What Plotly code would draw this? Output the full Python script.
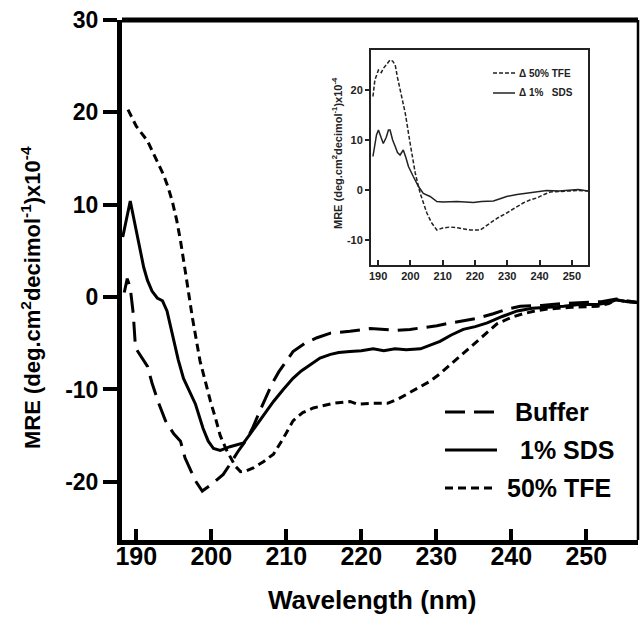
import plotly.graph_objects as go

# ---------------- data ----------------
buffer_wl = [188.4, 188.8, 189.2, 189.6, 189.9, 190.5, 191.5, 192.1, 193.0, 193.9, 195.0, 195.9,
             196.5, 197.9, 198.8, 200.0, 201.6, 202.5, 203.5, 204.8, 205.5, 206.5, 207.5, 208.1,
             209.0, 210.1, 210.9, 212.5, 214.1, 215.9, 218.5, 221.2, 224.8, 226.5, 230.1, 231.9,
             235.5, 237.6, 239.5, 241.2, 244.0, 247.0, 250.0, 252.0, 254.0, 255.5, 257.0]
buffer_mre = [0.5, 2.0, 1.0, -1.8, -5.5, -6.3, -7.5, -9.3, -11.5, -13.4, -14.8, -15.6,
              -17.4, -19.9, -21.0, -20.3, -19.2, -18.1, -16.8, -15.3, -14.2, -12.3, -10.5, -9.4,
              -8.1, -6.9, -5.9, -5.0, -4.4, -3.9, -3.7, -3.4, -3.6, -3.5, -3.1, -2.8,
              -2.3, -1.8, -1.3, -1.0, -0.9, -0.7, -0.6, -0.5, -0.2, -0.4, -0.6]

sds_wl = [188.2, 188.6, 189.2, 189.8, 190.5, 191.0, 191.5, 192.1, 192.8, 193.5, 194.1, 194.9,
          195.6, 196.3, 197.0, 197.9, 198.9, 199.6, 200.3, 201.2, 202.5, 203.5, 204.3, 205.2,
          206.1, 207.2, 208.3, 209.6, 210.9, 212.0, 213.2, 214.5, 215.9, 217.0, 218.5, 220.0,
          221.6, 223.0, 224.5, 226.0, 227.9, 229.2, 230.5, 232.0, 233.6, 235.2, 236.8, 238.8,
          240.8, 242.8, 244.8, 247.0, 249.0, 251.5, 253.0, 254.0, 255.5, 257.0]
sds_mre = [6.5, 8.0, 10.4, 8.0, 5.0, 3.2, 1.8, 0.65, -0.1, -0.4, -1.5, -4.4,
           -6.8, -8.8, -10.0, -11.6, -14.2, -15.6, -16.4, -16.6, -16.2, -16.0, -15.8, -14.8,
           -13.8, -12.5, -11.3, -10.0, -8.8, -8.0, -7.3, -6.6, -6.2, -6.0, -5.9, -5.8,
           -5.6, -5.8, -5.6, -5.7, -5.6, -5.2, -4.8, -4.1, -3.5, -3.2, -2.8, -2.1,
           -1.5, -1.2, -1.1, -1.0, -0.8, -0.8, -0.6, -0.3, -0.5, -0.6]

tfe_wl = [188.9, 190.0, 191.5, 192.5, 193.6, 194.2, 194.8, 195.4, 195.9, 196.5, 196.9, 197.5,
          198.5, 199.2, 199.9, 200.6, 201.2, 202.0, 202.5, 203.2, 203.9, 204.7, 205.6, 207.0,
          208.3, 209.6, 210.9, 212.2, 213.6, 215.0, 216.3, 218.5, 219.5, 221.5, 223.5, 225.0,
          226.1, 227.6, 229.2, 230.5, 231.9, 233.4, 234.9, 236.5, 238.1, 240.0, 241.6, 243.2,
          244.8, 248.0, 251.5, 253.0, 254.0, 255.5, 257.0]
tfe_mre = [20.3, 18.5, 16.9, 15.2, 13.3, 12.0, 10.4, 8.3, 6.1, 3.0, 0.65, -2.3,
           -6.9, -9.2, -11.3, -13.2, -15.0, -16.5, -17.3, -18.3, -18.9, -18.8, -18.5, -17.8,
           -17.0, -15.3, -13.4, -12.5, -12.0, -11.7, -11.5, -11.3, -11.6, -11.5, -11.5, -11.0,
           -10.5, -9.9, -9.1, -8.3, -7.3, -6.2, -5.1, -4.0, -2.9, -2.2, -1.8, -1.5,
           -1.3, -1.1, -1.0, -0.7, -0.3, -0.5, -0.6]

# inset: difference spectra
d_tfe_wl = [188.4, 189.0, 190.1, 191.0, 191.6, 192.5, 193.7, 194.5, 195.3, 196.0, 196.8, 198.4,
            199.9, 201.5, 203.0, 205.1, 206.5, 208.2, 210.0, 212.3, 215.0, 218.5, 221.6, 224.7,
            227.0, 229.8, 232.5, 234.9, 237.0, 239.1, 241.0, 243.3, 246.0, 249.5, 252.0, 255.0]
d_tfe_mre = [18.7, 22.0, 24.0, 23.5, 24.3, 25.0, 26.0, 25.8, 25.0, 22.5, 20.0, 15.4,
             9.4, 3.4, -0.6, -4.6, -6.5, -8.0, -7.6, -7.4, -7.6, -8.0, -8.0, -6.6,
             -5.6, -4.6, -3.5, -2.6, -2.0, -1.6, -1.0, -0.4, -0.3, -0.2, -0.1, -0.2]

d_sds_wl = [188.4, 188.9, 189.5, 190.1, 190.8, 191.6, 192.5, 193.2, 193.7, 194.5, 195.3, 196.0,
            196.8, 197.8, 198.6, 199.4, 200.9, 202.5, 204.0, 206.1, 208.2, 210.0, 214.4, 219.5,
            222.0, 225.7, 228.0, 229.8, 233.0, 237.1, 242.2, 246.0, 249.5, 252.0, 255.0]
d_sds_mre = [6.7, 8.7, 11.0, 12.0, 10.5, 9.3, 10.5, 12.0, 12.0, 10.0, 8.7, 7.5,
             7.0, 8.0, 6.5, 4.7, 2.7, 0.7, -0.7, -1.3, -2.3, -2.4, -2.3, -2.5,
             -2.3, -2.2, -1.7, -1.3, -0.9, -0.5, -0.1, -0.2, 0.0, 0.1, -0.2]

x_ticks = [190, 200, 210, 220, 230, 240, 250]
y_ticks_main = [-20, -10, 0, 10, 20, 30]
y_ticks_main_text = ["-20", "-10", "0", "10", "20", "30"]
y_ticks_inset = [-10, 0, 10, 20]
y_ticks_inset_text = ["-10", "0", "10", "20"]

series_main = [("Buffer", buffer_wl, buffer_mre, "20px,9px"),
               ("1% SDS", sds_wl, sds_mre, "solid"),
               ("50% TFE", tfe_wl, tfe_mre, "8px,5px")]
series_inset = [("Δ 50% TFE", d_tfe_wl, d_tfe_mre, "4px,2px"),
                ("Δ 1%&nbsp;&nbsp; SDS", d_sds_wl, d_sds_mre, "solid")]

# ---------------- figure ----------------
W, H = 641, 619
def px(x):
    return x / W
def py(y):
    return 1 - y / H

FONT = "Liberation Sans, Arial, Helvetica, sans-serif"

fig = go.Figure()
for name, xs, ys, dash in series_main:
    fig.add_trace(go.Scatter(x=xs, y=ys, mode="lines", name=name, showlegend=False,
                             line=dict(color="black", width=3, dash=dash),
                             xaxis="x", yaxis="y"))
for name, xs, ys, dash in series_inset:
    fig.add_trace(go.Scatter(x=xs, y=ys, mode="lines", name=name, showlegend=False,
                             line=dict(color="#222", width=1.5, dash=dash),
                             xaxis="x2", yaxis="y2"))

fig.update_layout(
    width=W, height=H,
    margin=dict(l=0, r=0, t=0, b=0, autoexpand=False),
    paper_bgcolor="white", plot_bgcolor="white",
    font=dict(family=FONT, color="black", weight="bold"),
    xaxis=dict(domain=[px(122), px(638)], range=[188.1, 256.9], anchor="y", automargin=False,
               tickvals=x_ticks, ticks="inside", ticklen=11, tickwidth=4, tickcolor="black",
               showline=True, linewidth=5, linecolor="black", showgrid=False, zeroline=False,
               tickfont=dict(size=25, family=FONT, weight="bold"), ticklabelstandoff=-10),
    yaxis=dict(domain=[py(540), py(20)], range=[-26.3, 30], anchor="x", automargin=False,
               tickvals=y_ticks_main, ticktext=y_ticks_main_text,
               ticks="outside", ticklen=14, tickwidth=4, tickcolor="black",
               showline=True, linewidth=5, linecolor="black", showgrid=False, zeroline=False,
               tickfont=dict(size=23, family=FONT, weight="bold"), ticklabelstandoff=0),
    xaxis2=dict(domain=[px(371), px(588)], range=[187.8, 255], anchor="y2", automargin=False,
                tickvals=x_ticks, ticks="inside", ticklen=5, tickwidth=1.5, tickcolor="#222",
                showline=True, linewidth=2, linecolor="#222", mirror=True,
                showgrid=False, zeroline=False,
                tickfont=dict(size=11, family=FONT, weight="bold", color="#222")),
    yaxis2=dict(domain=[py(265), py(50)], range=[-15, 28], anchor="x2", automargin=False,
                tickvals=y_ticks_inset, ticktext=y_ticks_inset_text,
                ticks="outside", ticklen=4, tickwidth=1.5, tickcolor="#222",
                showline=True, linewidth=2, linecolor="#222", mirror=True,
                showgrid=False, zeroline=False,
                tickfont=dict(size=11, family=FONT, weight="bold", color="#222")),
)

# frame of main plot (top thick, right thin)
fig.add_shape(type="line", xref="x domain", yref="y domain", x0=0, x1=1, y0=1, y1=1,
              line=dict(color="black", width=5))
fig.add_shape(type="line", xref="x domain", yref="y domain", x0=1, x1=1, y0=0, y1=1,
              line=dict(color="black", width=2.5))

# axis titles
fig.add_annotation(text="MRE (deg.cm<sup>2</sup>decimol<sup>-1</sup>)x10<sup>-4</sup>",
                   xref="paper", yref="paper", x=px(31), y=py(298), textangle=-90,
                   xanchor="center", yanchor="middle",
                   showarrow=False, font=dict(size=22, family=FONT, weight="bold"))
fig.add_annotation(text="Wavelength (nm)", xref="paper", yref="paper", x=px(372), y=py(600),
                   xanchor="center", yanchor="middle",
                   showarrow=False, font=dict(size=26, family=FONT, weight="bold"))
fig.add_annotation(text="MRE (deg.cm<sup>2</sup>decimol<sup>-1</sup>)x10<sup>-4</sup>",
                   xref="paper", yref="paper", x=px(337), y=py(153), textangle=-90,
                   xanchor="center", yanchor="middle",
                   showarrow=False, font=dict(size=11, family=FONT, weight="bold", color="#222"))

# main legend (drawn)
main_leg_y = [412, 450, 488]
main_leg_tx = [513, 518, 505]
for (name, xs, ys, dash), ly, tx in zip(series_main, main_leg_y, main_leg_tx):
    fig.add_shape(type="line", xref="paper", yref="paper", x0=px(445), x1=px(497),
                  y0=py(ly), y1=py(ly), line=dict(color="black", width=3, dash=dash))
    fig.add_annotation(text=name, xref="paper", yref="paper", x=px(tx), y=py(ly),
                       xanchor="left", yanchor="middle", showarrow=False,
                       font=dict(size=25, family=FONT, weight="bold"))

# inset legend (drawn)
inset_leg_y = [73, 93]
for (name, xs, ys, dash), ly in zip(series_inset, inset_leg_y):
    fig.add_shape(type="line", xref="paper", yref="paper", x0=px(493), x1=px(515),
                  y0=py(ly), y1=py(ly), line=dict(color="#222", width=1.5, dash=dash))
    fig.add_annotation(text=name, xref="paper", yref="paper", x=px(517), y=py(ly),
                       xanchor="left", yanchor="middle", showarrow=False,
                       font=dict(size=10, family=FONT, weight="bold", color="#222"))

fig.write_html("out.html")
